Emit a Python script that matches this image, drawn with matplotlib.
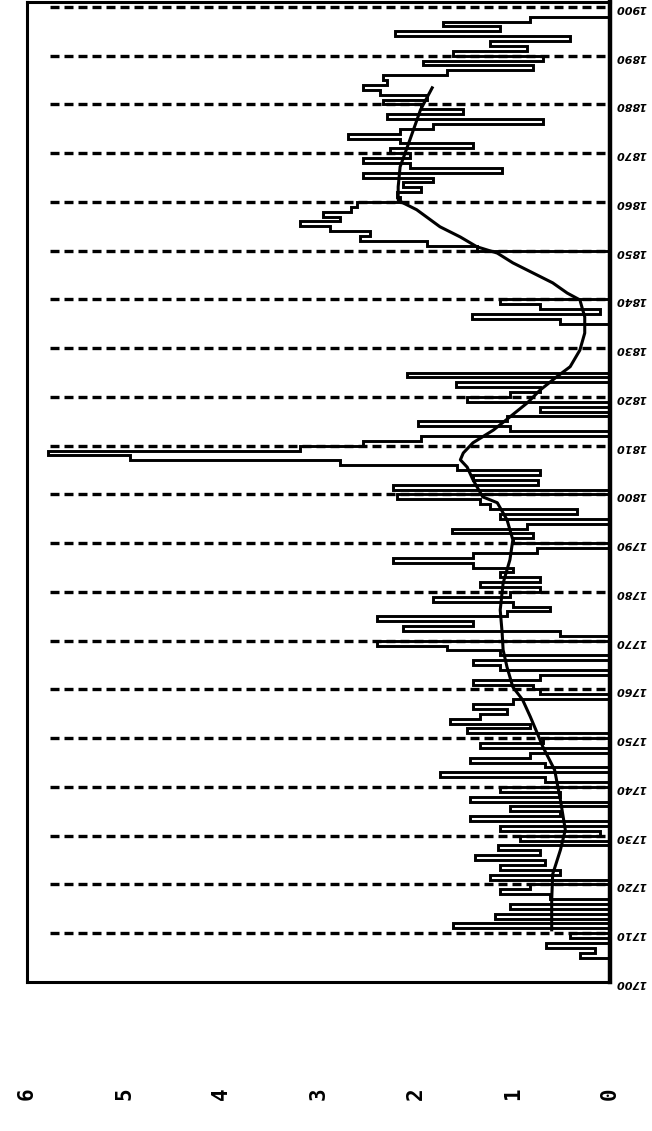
import matplotlib
matplotlib.use("Agg")
import matplotlib.pyplot as plt
import numpy as np

# annual values 1700..1900 (value axis 0 at right, 6 at left)
years = list(range(1700, 1901))
values = [
    0, 0, 0, 0, 0, 0.31, 0.15, 0.66, 0, 0.41,
    0, 1.62, 0, 1.18, 0, 1.03, 0, 0.62, 1.13, 0.82,
    0, 1.23, 0.51, 1.13, 0.67, 1.39, 0.72, 1.15, 0, 0.93,
    0.10, 1.13, 0, 1.44, 0.51, 1.03, 0, 1.44, 0.51, 1.13,
    0, 0.67, 1.75, 0, 0.67, 1.44, 0.82, 0, 1.34, 0.69,
    0, 1.47, 0.82, 1.65, 1.34, 1.06, 1.41, 1.00, 0, 0.72,
    0.79, 1.41, 0.72, 0, 1.13, 1.41, 0, 1.13, 1.68, 2.40,
    0, 0.51, 2.13, 1.41, 2.40, 1.06, 0.62, 1.00, 1.82, 1.03,
    0.72, 1.34, 0.72, 1.13, 1.00, 1.41, 2.23, 1.41, 0.75, 0,
    1.00, 0.79, 1.63, 0.85, 0, 1.13, 0.34, 1.23, 1.34, 2.19,
    0, 2.23, 0.74, 1.41, 0.72, 1.57, 2.78, 4.94, 5.78, 3.19,
    2.54, 1.95, 0, 1.03, 1.98, 1.06, 0, 0.72, 0, 1.47,
    1.03, 0.72, 1.59, 0, 2.09, 0, 0, 0, 0, 0,
    0, 0, 0, 0, 0, 0.51, 1.42, 0.10, 0.72, 1.13,
    0, 0, 0, 0, 0, 0, 0, 0, 0, 0,
    1.37, 1.88, 2.57, 2.47, 2.88, 3.19, 2.78, 2.95, 2.67, 2.60,
    2.16, 2.19, 1.95, 2.13, 1.82, 2.54, 1.11, 2.06, 2.54, 2.06,
    2.26, 1.41, 2.16, 2.70, 2.16, 1.82, 0.69, 2.29, 1.51, 1.95,
    2.34, 1.88, 2.37, 2.54, 2.29, 2.34, 1.68, 0.79, 1.92, 0.69,
    1.62, 0.85, 1.23, 0.41, 2.21, 1.13, 1.72, 0.82, 0, 0,
    0,
]

# smoothed curve
smooth_years = [1710.7, 1716.8, 1722.1, 1727.1, 1731.2, 1737.3, 1743.5, 1748.2,
                1751.1, 1754.4, 1757.9, 1760.5, 1764.6, 1768.1, 1771.6, 1776.3,
                1781.8, 1786.6, 1790.7, 1794.8, 1798.3, 1799.5, 1803.0, 1805.6,
                1807.1, 1808.5, 1810.6, 1813.2, 1815.9, 1818.8, 1821.4, 1824.1,
                1826.2, 1829.6, 1833.1, 1836.4, 1839.9, 1841.3, 1843.4, 1845.4,
                1847.5, 1849.5, 1850.8, 1852.8, 1854.9, 1858.4, 1859.8, 1860.4,
                1863.1, 1867.2, 1872.7, 1878.9, 1883.4]
smooth_values = [0.60, 0.60, 0.59, 0.51, 0.46, 0.51, 0.57, 0.69,
                 0.75, 0.82, 0.90, 1.00, 1.06, 1.10, 1.11, 1.13,
                 1.10, 1.03, 1.00, 1.06, 1.16, 1.31, 1.41, 1.47,
                 1.54, 1.51, 1.41, 1.20, 1.03, 0.85, 0.72, 0.55,
                 0.41, 0.31, 0.26, 0.26, 0.31, 0.44, 0.59, 0.79,
                 1.00, 1.16, 1.37, 1.54, 1.75, 1.99, 2.13, 2.18,
                 2.18, 2.16, 2.06, 1.95, 1.83]

decades = list(range(1710, 1901, 10))
year_labels = list(range(1700, 1901, 10))
value_ticks = [6, 5, 4, 3, 2, 1, 0]

fig = plt.figure(figsize=(6.52, 11.31), dpi=100)
ax = fig.add_axes([27 / 652, 149 / 1131, 583 / 652, 980 / 1131])

ax.hlines(decades, 0.05, 5.78, colors='black', linewidth=2.4,
          linestyles=(0, (2.7, 1.5)))
edges = years + [1901]
ax.stairs(values, edges, orientation='horizontal', baseline=None,
          color='black', linewidth=2.1)
ax.plot(smooth_values, smooth_years, color='black', linewidth=2.2)

ax.set_xlim(6, 0)
ax.set_ylim(1700, 1901)

ax.yaxis.tick_right()
ax.set_yticks(year_labels)
ax.set_yticklabels([str(y) for y in year_labels], rotation=180,
                   fontsize=8, fontstyle='italic', fontweight='bold')
ax.tick_params(axis='y', length=0, pad=4)

ax.set_xticks(value_ticks)
ax.set_xticklabels([str(v) for v in value_ticks], rotation=90,
                   fontsize=15, fontweight='bold', family='DejaVu Sans Mono')
ax.tick_params(axis='x', length=0, pad=76)

for side in ['left', 'top', 'bottom']:
    ax.spines[side].set_linewidth(2.2)
ax.spines['right'].set_linewidth(3.2)

fig.savefig('out.png', dpi=100)
